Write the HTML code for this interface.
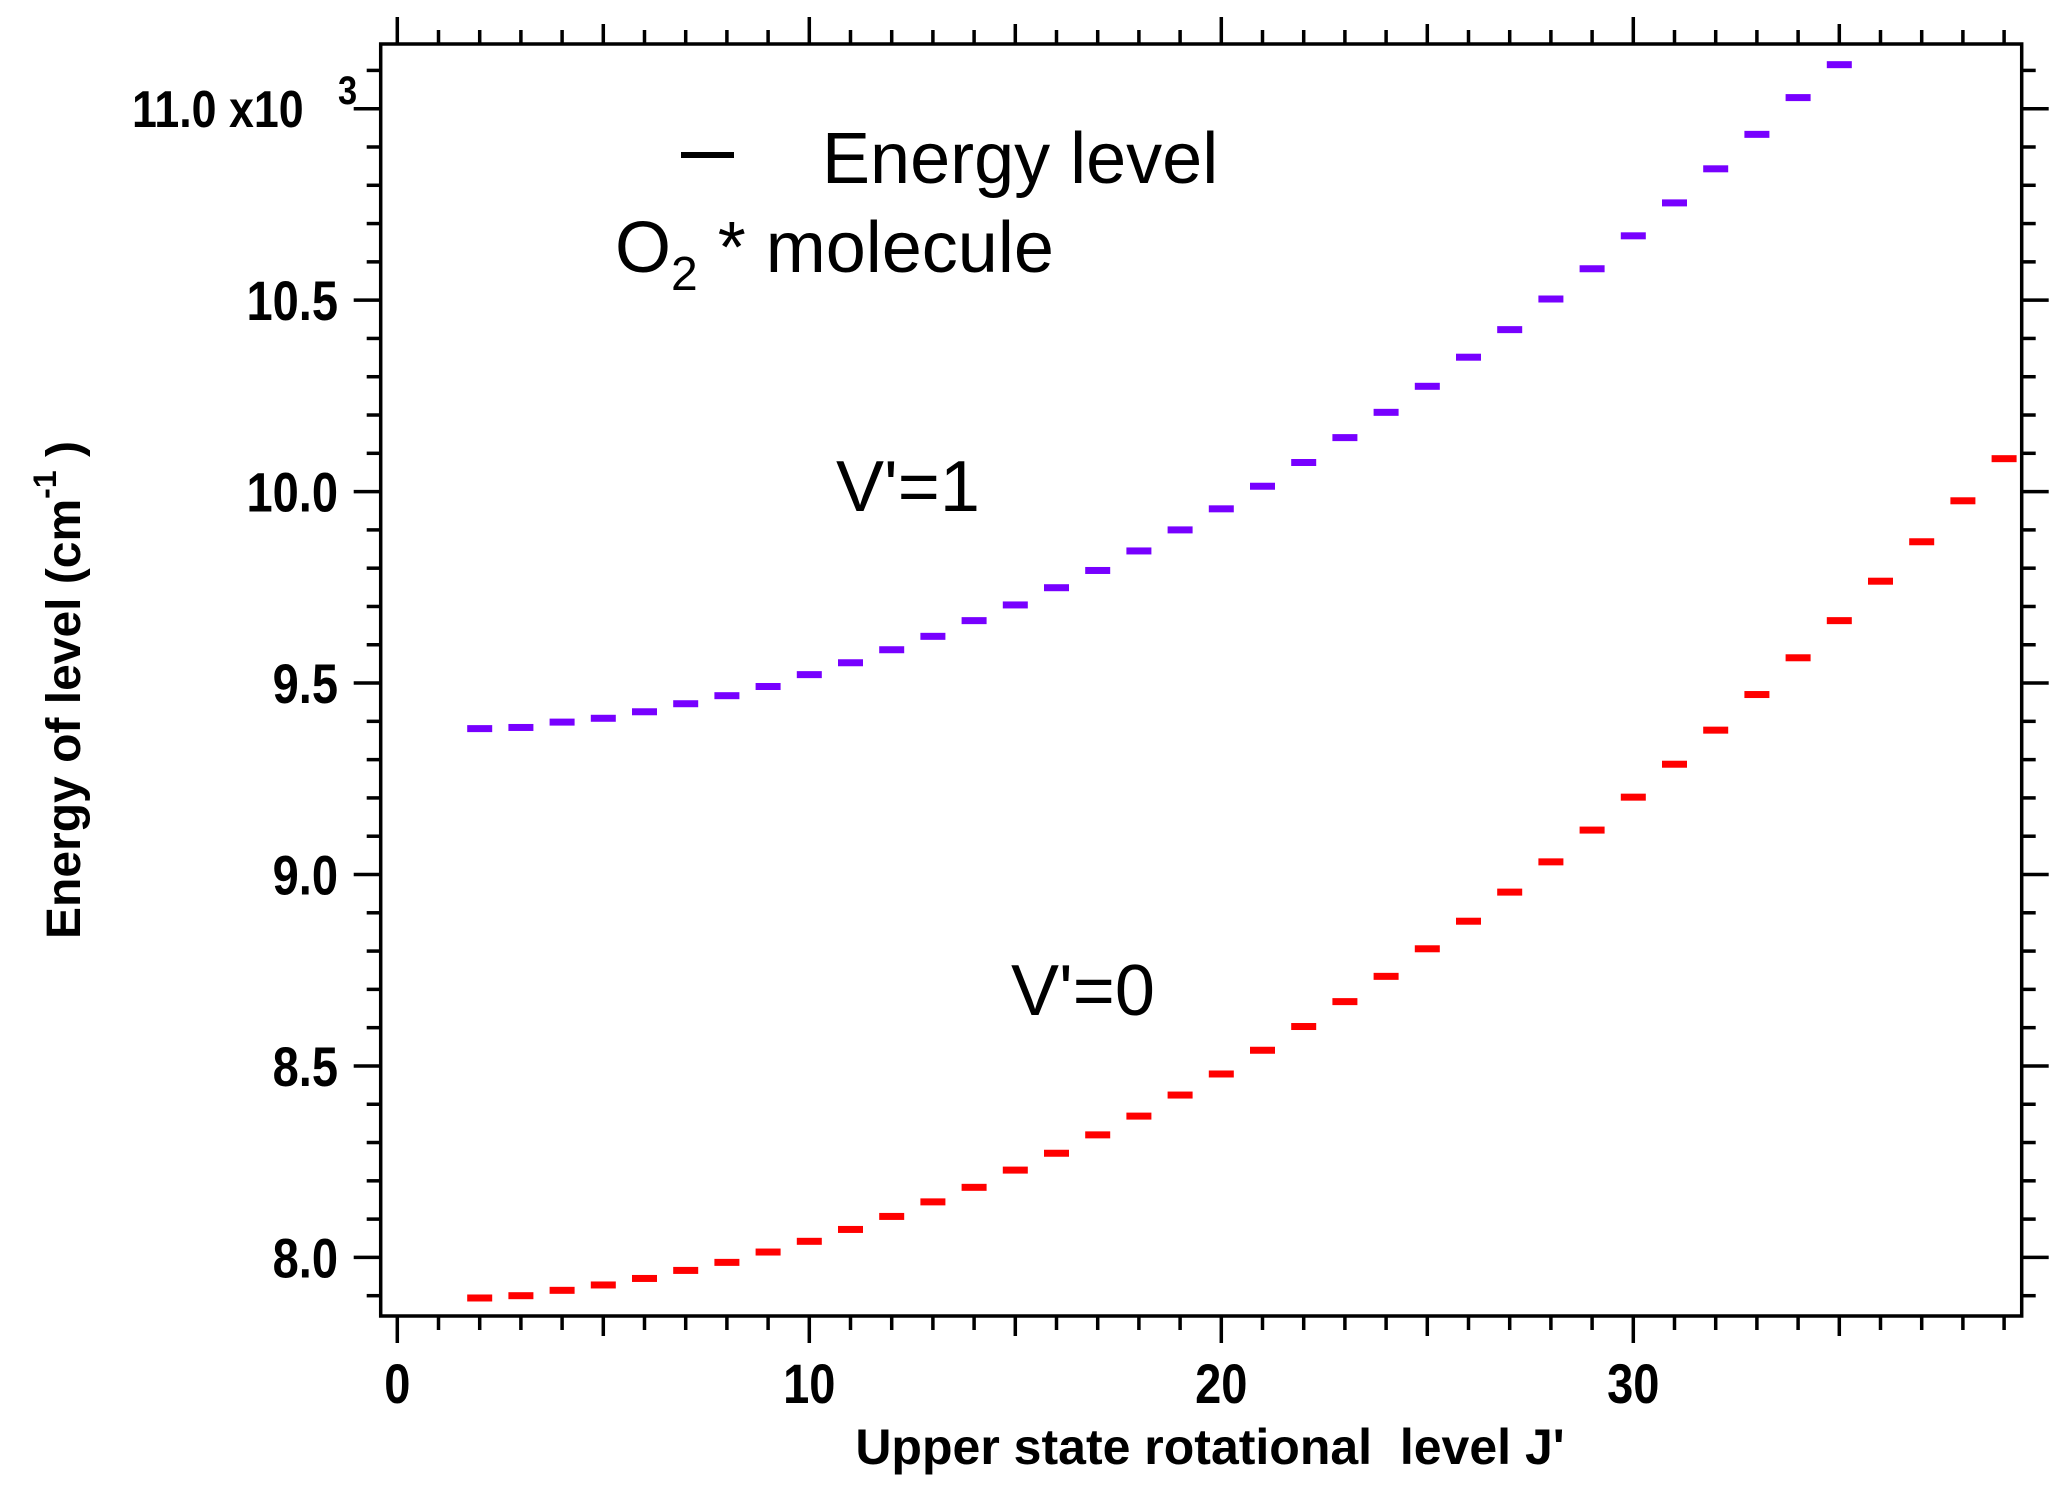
<!DOCTYPE html>
<html><head><meta charset="utf-8">
<style>
html,body{margin:0;padding:0;background:#fff;}
svg{display:block;font-family:"Liberation Sans",Arial,sans-serif;}
</style></head>
<body>
<svg id="chart" width="2067" height="1494" viewBox="0 0 2067 1494" xmlns="http://www.w3.org/2000/svg">
  <rect x="0" y="0" width="2067" height="1494" fill="#fff"/>
  <g id="ticks"></g>
  <g id="marks"></g>
  <rect x="380.7" y="44" width="1641" height="1272" fill="none" stroke="#000" stroke-width="3.5"/>
  <g id="labels" font-weight="bold" font-size="56"></g>
  <text transform="translate(132,127) scale(0.86,1)" font-weight="bold" font-size="52">11.0 x10</text>
  <text transform="translate(338,104) scale(0.86,1)" font-weight="bold" font-size="40">3</text>
  <text transform="translate(80,690) rotate(-90)" text-anchor="middle" font-weight="bold" font-size="48">Energy of level (cm<tspan dy="-24" font-size="32">-1</tspan><tspan dy="24"> )</tspan></text>
  <text x="1210" y="1464" text-anchor="middle" font-weight="bold" font-size="50" xml:space="preserve">Upper state rotational  level J'</text>
  <rect x="681" y="152" width="53" height="6" fill="#000"/>
  <text x="822" y="183" font-size="72">Energy level</text>
  <text x="615" y="272" font-size="72">O<tspan font-size="48" dy="18">2</tspan><tspan dy="-18"> * molecule</tspan></text>
  <text x="836" y="511" font-size="72">V'=1</text>
  <text x="1011" y="1015" font-size="72">V'=0</text>
</svg>
<script>
const jV1 = [2,3,4,5,6,7,8,9,10,11,12,13,14,15,16,17,18,19,20,21,22,23,24,25,26,27,28,29,30,31,32,33,34,35];
const eV1 = [9.381,9.384,9.398,9.408,9.425,9.446,9.467,9.491,9.522,9.553,9.587,9.622,9.663,9.704,9.749,9.794,9.845,9.900,9.955,10.014,10.076,10.141,10.207,10.275,10.351,10.423,10.503,10.582,10.668,10.754,10.843,10.933,11.029,11.115];
const jV0 = [2,3,4,5,6,7,8,9,10,11,12,13,14,15,16,17,18,19,20,21,22,23,24,25,26,27,28,29,30,31,32,33,34,35,36,37,38,39];
const eV0 = [7.894,7.900,7.914,7.928,7.945,7.966,7.987,8.014,8.042,8.073,8.107,8.145,8.183,8.228,8.272,8.320,8.369,8.424,8.479,8.541,8.603,8.668,8.734,8.806,8.878,8.954,9.033,9.116,9.202,9.288,9.377,9.470,9.566,9.663,9.766,9.869,9.976,10.086];
const xTickLabels = [0,10,20,30];
const yTickLabels = ["8.0","8.5","9.0","9.5","10.0","10.5"];
const yTickValues = [8.0,8.5,9.0,9.5,10.0,10.5];

const NS = "http://www.w3.org/2000/svg";
const L = 380.7, R = 2021.7, T = 44, B = 1316;
function xs(j){ return 397.3 + j*41.2; }
function ys(v){ return 108.7 + (11.0 - v)*382.9; }
function mk(tag, attrs, parent){
  const e = document.createElementNS(NS, tag);
  for (const k in attrs) e.setAttribute(k, attrs[k]);
  parent.appendChild(e); return e;
}
const ticks = document.getElementById('ticks');
for (let j = 0; j <= 39; j++) {
  const len = (j % 10 === 0) ? 27 : (j % 5 === 0 ? 20 : 14);
  const x = xs(j);
  const t1 = mk('line', {x1:x, x2:x, y1:B, y2:B+len, stroke:'#000','stroke-width':3.5}, ticks);
  
  
  const t2 = mk('line', {x1:x, x2:x, y1:T, y2:T-len, stroke:'#000','stroke-width':3.5}, ticks);
  
  
}
for (let k = 79; k <= 111; k++) {
  const v = k/10;
  const y = ys(v);
  if (y < T || y > B) continue;
  const len = (k % 5 === 0) ? 27 : 14;
  const t1 = mk('line', {x1:L-len, x2:L, y1:y, y2:y, stroke:'#000','stroke-width':3.5}, ticks);
  
  
  const t2 = mk('line', {x1:R, x2:R+len, y1:y, y2:y, stroke:'#000','stroke-width':3.5}, ticks);
  
  
}
const labels = document.getElementById('labels');
xTickLabels.forEach(v => {
  const t = mk('text', {transform:'translate(' + xs(v) + ',1403) scale(0.84,1)', 'text-anchor':'middle'}, labels);
  t.textContent = v;
  
  
});
yTickValues.forEach((v,i) => {
  const t = mk('text', {transform:'translate(338,' + (ys(v)+20) + ') scale(0.84,1)', 'text-anchor':'end'}, labels);
  t.textContent = yTickLabels[i];
  
  
});
const marks = document.getElementById('marks');
function series(js, es, color, name){
  js.forEach((j,i) => {
    const r = mk('rect', {x:xs(j)-12.5, y:ys(es[i])-3.5, width:25, height:7, fill:color}, marks);
    
    
  });
}
series(jV1, eV1, '#7700ff', 'v1-level-dash');
series(jV0, eV0, '#ff0000', 'v0-level-dash');
</script>
</body></html>
